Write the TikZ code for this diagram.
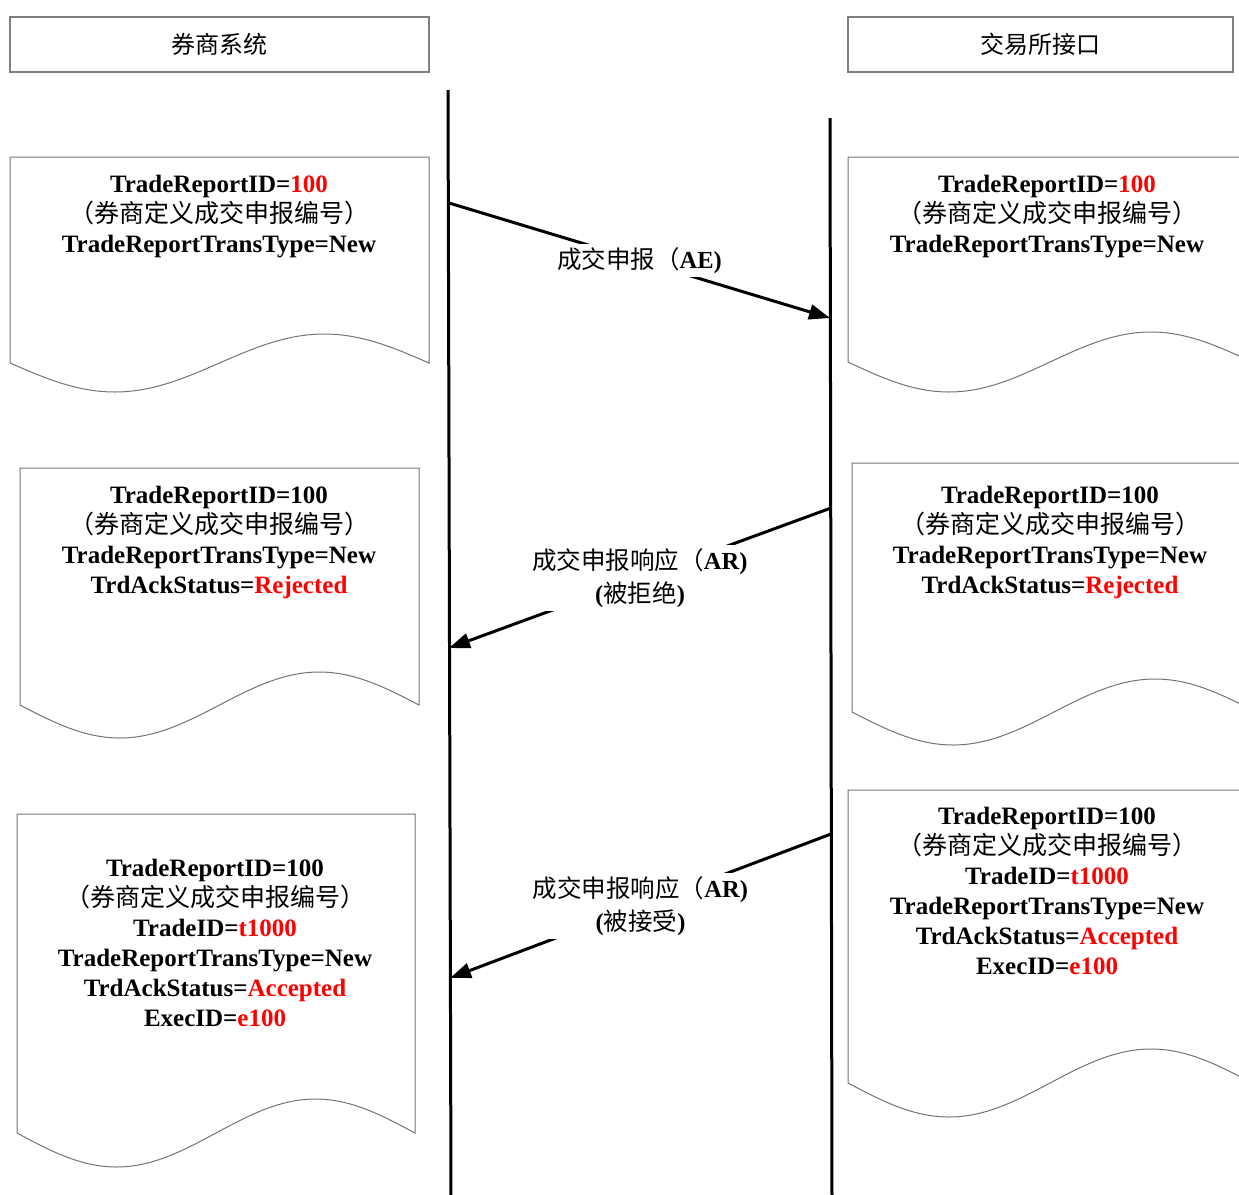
\documentclass[tikz,border=0pt]{standalone}
\usepackage{fontspec}
\setmainfont{Liberation Serif}
\newfontfamily\cjk{Noto Sans CJK SC}
\usetikzlibrary{arrows.meta}
\newcommand\rd[1]{\textcolor{red}{#1}}
\begin{document}
\begin{tikzpicture}[x=1pt,y=-1pt,
  hdr/.style={draw=black!50,line width=1.2pt,minimum height=55pt,inner sep=0pt,
    font=\fontsize{24}{30}\selectfont\cjk},
  docbox/.style={draw=black!55,line width=1pt},
  doctext/.style={align=center,inner sep=0pt,font=\fontsize{25}{30}\selectfont\bfseries},
  life/.style={line width=3pt},
  msg/.style={line width=3pt,-{Triangle[length=21pt,width=15pt]}},
  lbl/.style={fill=white,align=center,inner sep=3pt,font=\fontsize{24.5}{33}\selectfont}
]
\useasboundingbox (0,0) rectangle (1239,1194);
\clip (0,0) rectangle (1239,1194);

% headers
\node[hdr,minimum width=419pt] (hL) at (219.5,44.5) {券商系统};
\node[hdr,minimum width=385pt] (hR) at (1040.5,44.5) {交易所接口};

% document shapes
\draw[docbox] (429,363) -- (429,157) -- (10,157) -- (10,363) sin (114.75,392) cos (219.5,363) sin (324.25,334) cos (429,363) -- cycle;
\draw[docbox] (419,705) -- (419,468) -- (20,468) -- (20,705) sin (119.75,738) cos (219.5,705) sin (319.25,672) cos (419,705) -- cycle;
\draw[docbox] (415,1133) -- (415,814) -- (17,814) -- (17,1133) sin (116.5,1167) cos (216,1133) sin (315.5,1099) cos (415,1133) -- cycle;
\draw[docbox] (1252,362) -- (1252,157) -- (848,157) -- (848,362) sin (949,392) cos (1050,362) sin (1151,332) cos (1252,362) -- cycle;
\draw[docbox] (1256,712) -- (1256,463) -- (852,463) -- (852,712) sin (953,745) cos (1054,712) sin (1155,679) cos (1256,712) -- cycle;
\draw[docbox] (1252,1083) -- (1252,790) -- (848,790) -- (848,1083) sin (949,1117) cos (1050,1083) sin (1151,1049) cos (1252,1083) -- cycle;

% document texts
\node[doctext] (t1L) at (219,217) {TradeReportID=\rd{100}\\{\mdseries\cjk （券商定义成交申报编号）}\\TradeReportTransType=New};
\node[doctext] (t1R) at (1047,217) {TradeReportID=\rd{100}\\{\mdseries\cjk （券商定义成交申报编号）}\\TradeReportTransType=New};
\node[doctext] (t2L) at (219,542) {TradeReportID=100\\{\mdseries\cjk （券商定义成交申报编号）}\\TradeReportTransType=New\\TrdAckStatus=\rd{Rejected}};
\node[doctext] (t2R) at (1050,542) {TradeReportID=100\\{\mdseries\cjk （券商定义成交申报编号）}\\TradeReportTransType=New\\TrdAckStatus=\rd{Rejected}};
\node[doctext] (t3L) at (215,943) {TradeReportID=100\\{\mdseries\cjk （券商定义成交申报编号）}\\TradeID=\rd{t1000}\\TradeReportTransType=New\\TrdAckStatus=\rd{Accepted}\\ExecID=\rd{e100}};
\node[doctext] (t3R) at (1047,891) {TradeReportID=100\\{\mdseries\cjk （券商定义成交申报编号）}\\TradeID=\rd{t1000}\\TradeReportTransType=New\\TrdAckStatus=\rd{Accepted}\\ExecID=\rd{e100}};

% lifelines
\coordinate (lTop) at (448,90);
\coordinate (lBot) at (451,1200);
\coordinate (rTop) at (830,118);
\coordinate (rBot) at (832,1200);
\draw[life] (lTop) -- (lBot);
\draw[life] (rTop) -- (rBot);

% message end points on lifelines
\coordinate (aeS) at (449,203);
\coordinate (aeE) at (830,318);
\coordinate (rjS) at (831,508);
\coordinate (rjE) at (449,648);
\coordinate (acS) at (831,834);
\coordinate (acE) at (450,978);

\draw[msg] (aeS) -- node[lbl] (lAE) {{\cjk 成交申报（}\textbf{AE)}} (aeE);
\draw[msg] (rjS) -- node[lbl] (lRJ) {{\cjk 成交申报响应（}\textbf{AR)}\\\textbf{(}{\cjk 被拒绝}\textbf{)}} (rjE);
\draw[msg] (acS) -- node[lbl] (lAC) {{\cjk 成交申报响应（}\textbf{AR)}\\\textbf{(}{\cjk 被接受}\textbf{)}} (acE);
\end{tikzpicture}
\end{document}
